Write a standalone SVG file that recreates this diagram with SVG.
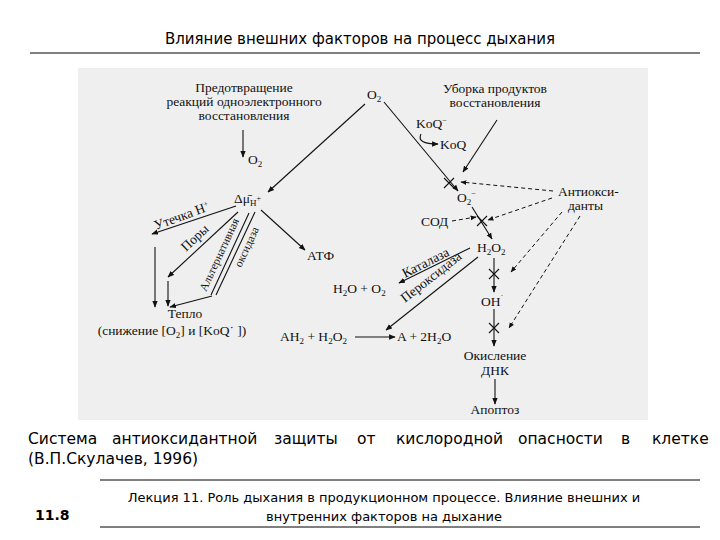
<svg xmlns="http://www.w3.org/2000/svg" width="720" height="540" viewBox="0 0 720 540">
<defs>
<marker id="a" viewBox="0 0 10 10" refX="9" refY="5" markerWidth="6" markerHeight="6" orient="auto"><path d="M0,1 L10,5 L0,9 z" fill="#111"/></marker>
<style>
.t{font-family:"Liberation Serif",serif;font-size:13.5px;fill:#111}
.s{font-family:"DejaVu Sans",sans-serif;fill:#000}
.l{stroke:#111;stroke-width:1.1;fill:none}
.d{stroke:#111;stroke-width:1;fill:none;stroke-dasharray:4,3}
.m{marker-end:url(#a)}
</style>
</defs>
<rect width="720" height="540" fill="#fff"/>
<text class="s" x="360" y="44" font-size="15" text-anchor="middle">Влияние внешних факторов на процесс дыхания</text>
<line x1="30" y1="53" x2="700" y2="53" stroke="#000"/>
<rect x="78" y="68" width="570" height="352" fill="#efefef"/>
<g id="nodes">
<g id="prev" class="t" text-anchor="middle"><text x="244" y="92">Предотвращение</text><text x="244" y="106">реакций одноэлектронного</text><text x="244" y="120">восстановления</text></g>
<text id="o2a" class="t" x="248" y="164">O<tspan font-size="9" dy="3">2</tspan></text>
<text id="o2top" class="t" x="367" y="99">O<tspan font-size="9" dy="3">2</tspan></text>
<text id="dmu" class="t" x="234" y="203">Δμ̄<tspan font-size="9" dy="3">H</tspan><tspan font-size="8" dy="-5">+</tspan></text>
<text id="atf" class="t" x="307" y="260">АТФ</text>
<g id="heat" class="t" text-anchor="middle"><text x="185" y="318">Тепло</text><text x="172" y="335">(снижение [O<tspan font-size="9" dy="3">2</tspan><tspan dy="-3">] и [KoQ˙ ])</tspan></text></g>
<g id="ubor" class="t" text-anchor="middle"><text x="495" y="93">Уборка продуктов</text><text x="495" y="107">восстановления</text></g>
<text id="koq1" class="t" x="416" y="128">KoQ<tspan font-size="8" dy="-5">−</tspan></text>
<text id="koq2" class="t" x="440" y="149">KoQ</text>
<text id="o2m" class="t" x="457" y="202">O<tspan font-size="9" dy="3">2</tspan><tspan font-size="8" dy="-9">−</tspan></text>
<g id="antiox" class="t"><text x="558" y="196">Антиокси-</text><text x="568" y="210">данты</text></g>
<text id="sod" class="t" x="421" y="226">СОД</text>
<text id="h2o2" class="t" x="477" y="252">H<tspan font-size="9" dy="3">2</tspan><tspan dy="-3">O</tspan><tspan font-size="9" dy="3">2</tspan></text>
<text id="h2o" class="t" x="333" y="293">H<tspan font-size="9" dy="3">2</tspan><tspan dy="-3">O + O</tspan><tspan font-size="9" dy="3">2</tspan></text>
<text id="ah2" class="t" x="280" y="341">AH<tspan font-size="9" dy="3">2</tspan><tspan dy="-3"> + H</tspan><tspan font-size="9" dy="3">2</tspan><tspan dy="-3">O</tspan><tspan font-size="9" dy="3">2</tspan></text>
<text id="a2h" class="t" x="397" y="341">A + 2H<tspan font-size="9" dy="3">2</tspan><tspan dy="-3">O</tspan></text>
<text id="oh" class="t" x="481" y="306">OH<tspan font-size="9" dy="-5">˙</tspan></text>
<g id="dnk" class="t" text-anchor="middle"><text x="495" y="360">Окисление</text><text x="495" y="375">ДНК</text></g>
<text id="apop" class="t" x="495" y="414" text-anchor="middle">Апоптоз</text>
</g>
<g id="connectors">
<line class="l m" x1="243" y1="130" x2="243" y2="157"/>
<line class="l m" x1="365" y1="104" x2="268" y2="192"/>
<line class="l m" x1="236" y1="206" x2="152" y2="234"/>
<line class="l m" x1="155" y1="247" x2="155" y2="307"/>
<line class="l m" x1="238" y1="212" x2="168" y2="277"/>
<line class="l m" x1="168" y1="281" x2="168" y2="306"/>
<line class="l" x1="249" y1="213" x2="211" y2="295"/>
<line class="l" x1="255" y1="212" x2="216" y2="295"/>
<line class="l m" x1="212" y1="296" x2="170" y2="307"/>
<line class="l m" x1="261" y1="210" x2="305" y2="250"/>
<line class="l m" x1="384" y1="102" x2="458" y2="191"/>
<path class="l m" d="M421,134 Q416,144 438,144"/>
<line class="l m" x1="497" y1="120" x2="463" y2="172"/>
<line class="d m" x1="553" y1="191" x2="461" y2="182"/>
<line class="d m" x1="552" y1="198" x2="488" y2="220"/>
<line class="d m" x1="452" y1="221" x2="476" y2="217"/>
<line class="l m" x1="472" y1="207" x2="492" y2="239"/>
<line class="l m" x1="470" y1="248" x2="399" y2="283"/>
<line class="l m" x1="478" y1="257" x2="386" y2="330"/>
<line class="l m" x1="355" y1="337" x2="395" y2="337"/>
<line class="l m" x1="494" y1="258" x2="494" y2="292"/>
<line class="l m" x1="494" y1="309" x2="494" y2="346"/>
<line class="d m" x1="562" y1="212" x2="511" y2="272"/>
<line class="d m" x1="580" y1="216" x2="509" y2="328"/>
<line class="l m" x1="495" y1="379" x2="495" y2="404"/>
<g class="l"><path d="M444,178 l10,10 M444,188 l10,-10"/><path d="M477,216 l10,10 M477,226 l10,-10"/><path d="M489,269 l10,10 M489,279 l10,-10"/><path d="M489,323 l10,10 M489,333 l10,-10"/></g>
</g>
<g class="t" font-size="12.5">
<text transform="translate(156,230) rotate(-20)">Утечка H<tspan font-size="8" dy="-5">+</tspan></text>
<text transform="translate(186,252) rotate(-43)">Поры</text>
<text transform="translate(206,292) rotate(-65)" font-size="11.5">Альтернативная</text>
<text transform="translate(241,268) rotate(-65)" font-size="11.5">оксидаза</text>
<text transform="translate(405,278) rotate(-27)">Каталаза</text>
<text transform="translate(405,303) rotate(-38)">Пероксидаза</text>
</g>
<text class="s" font-size="15.5" y="444"><tspan x="28">Система</tspan><tspan x="112">антиоксидантной</tspan><tspan x="274">защиты</tspan><tspan x="357">от</tspan><tspan x="396">кислородной</tspan><tspan x="518">опасности</tspan><tspan x="621">в</tspan><tspan x="652">клетке</tspan></text>
<text class="s" font-size="15.5" x="28" y="464">(В.П.Скулачев, 1996)</text>
<line x1="100" y1="480" x2="700" y2="480" stroke="#000"/>
<text class="s" x="35" y="520" font-size="14" font-weight="bold">11.8</text>
<g class="s" font-size="13" text-anchor="middle"><text x="384" y="502">Лекция 11. Роль дыхания в продукционном процессе. Влияние внешних и</text><text x="384" y="521">внутренних факторов на дыхание</text></g>
<line x1="100" y1="527" x2="700" y2="527" stroke="#000"/>
</svg>
